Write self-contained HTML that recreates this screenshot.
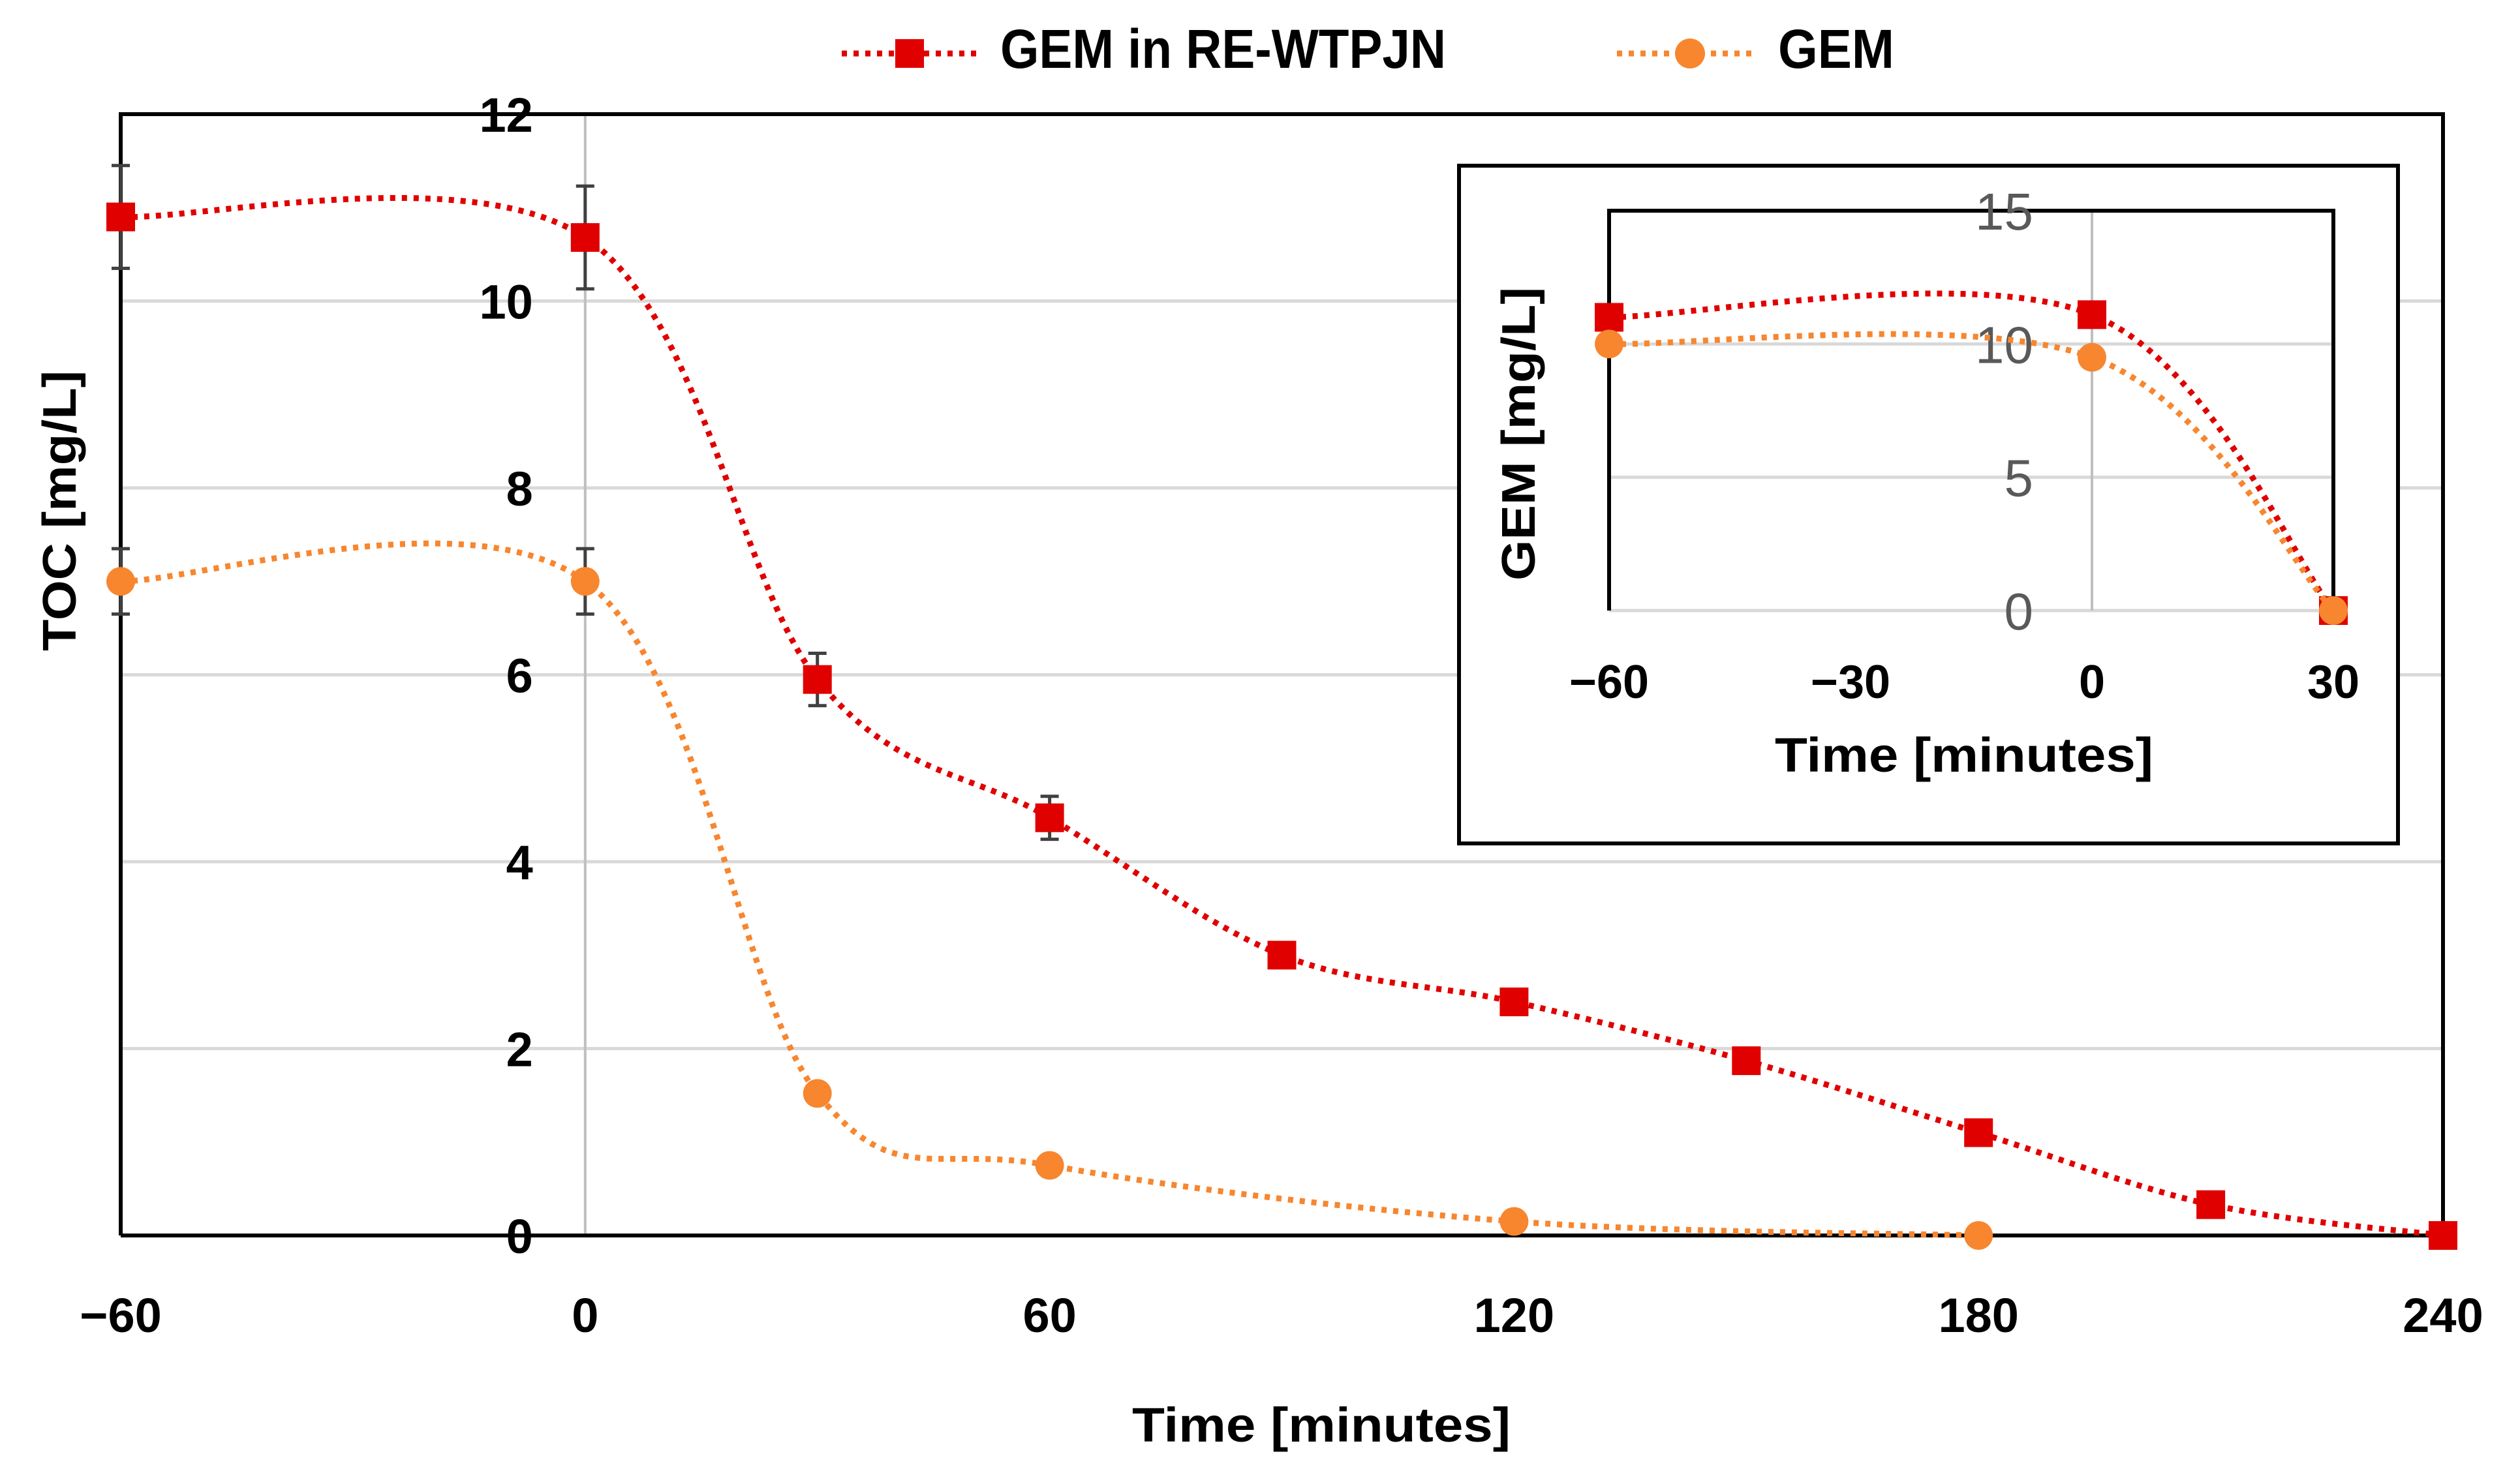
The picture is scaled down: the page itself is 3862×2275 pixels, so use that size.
<!DOCTYPE html>
<html><head><meta charset="utf-8"><style>
html,body{margin:0;padding:0;background:#fff;}
svg{display:block;font-family:"Liberation Sans",sans-serif;font-weight:bold;}
</style></head><body>
<svg id="chart" width="3862" height="2275" viewBox="0 0 3862 2275" xmlns="http://www.w3.org/2000/svg">
<rect width="3862" height="2275" fill="#fff"/>
<g id="main"></g>
<g id="inset"></g>
<g id="legend">
  <line x1="1290" y1="82" x2="1500" y2="82" stroke="#E00000" stroke-width="9" stroke-dasharray="8 10"/>
  <rect x="1372" y="60" width="44" height="44" fill="#E00000"/>
  <text x="1533" y="104" font-size="84" textLength="683" lengthAdjust="spacingAndGlyphs">GEM in RE-WTPJN</text>
  <line x1="2478" y1="82" x2="2688" y2="82" stroke="#F7862F" stroke-width="9" stroke-dasharray="8 10"/>
  <circle cx="2590" cy="82" r="23" fill="#F7862F"/>
  <text x="2725" y="104" font-size="84" textLength="178" lengthAdjust="spacingAndGlyphs">GEM</text>
</g>
</svg>
<script>
const NS="http://www.w3.org/2000/svg";
// main chart data
const xTicks=[-60,0,60,120,180,240];
const xTickLabels=["\u221260","0","60","120","180","240"];
const yTicks=[0,2,4,6,8,10,12];
const redX=[-60,0,30,60,90,120,150,180,210,240];
const redY=[10.9,10.68,5.95,4.47,3.0,2.5,1.87,1.1,0.33,0];
const redErr=[0.55,0.55,0.28,0.23,0,0,0,0,0,0];
const orangeX=[-60,0,30,60,120,180];
const orangeY=[7.0,7.0,1.52,0.75,0.15,0];
const orangeErr=[0.35,0.35,0,0,0,0];
// inset data
const inXTicks=[-60,-30,0,30];
const inXTickLabels=["\u221260","\u221230","0","30"];
const inYTicks=[0,5,10,15];
const inRedX=[-60,0,30];
const inRedY=[11,11.1,0];
const inOrangeX=[-60,0,30];
const inOrangeY=[10,9.5,0];

const RED="#E00000",ORANGE="#F7862F";
function mk(tag,attrs,parent){const e=document.createElementNS(NS,tag);for(const k in attrs)e.setAttribute(k,attrs[k]);parent.appendChild(e);return e;}
function smooth(pts){
  let d="M"+pts[0][0]+","+pts[0][1];
  for(let i=0;i<pts.length-1;i++){
    const p0=pts[Math.max(0,i-1)],p1=pts[i],p2=pts[i+1],p3=pts[Math.min(pts.length-1,i+2)];
    const c1=[p1[0]+(p2[0]-p0[0])/6,p1[1]+(p2[1]-p0[1])/6];
    const c2=[p2[0]-(p3[0]-p1[0])/6,p2[1]-(p3[1]-p1[1])/6];
    d+=" C"+c1[0]+","+c1[1]+" "+c2[0]+","+c2[1]+" "+p2[0]+","+p2[1];
  }
  return d;
}
// ---------- main ----------
const L=185,R=3744,T=175,B=1894;
const sx=v=>L+(v-(-60))/300*(R-L);
const sy=v=>B-v/12*(B-T);
const g=document.getElementById('main');
yTicks.forEach(v=>{
  if(v>0&&v<12){const ln=mk('line',{x1:L,x2:R,y1:sy(v),y2:sy(v),stroke:'#d9d9d9','stroke-width':5},g);
  
  }
});
const vl=mk('line',{x1:sx(0),x2:sx(0),y1:T,y2:B,stroke:'#bfbfbf','stroke-width':4},g);


const ax=mk('path',{d:`M${L},${B} L${L},${T} L${R},${T} L${R},${B} L${L},${B}`,fill:'none',stroke:'#000','stroke-width':6},g);


yTicks.forEach(v=>{
  const t=mk('text',{x:sx(0)-80,y:sy(v)+27,'font-size':74,'text-anchor':'end',fill:'#000'},g);
  t.textContent=String(v);
  
  
});
xTicks.forEach((v,i)=>{
  const t=mk('text',{x:sx(v),y:2042,'font-size':74,'text-anchor':'middle',fill:'#000'},g);
  t.textContent=xTickLabels[i];
  
  
});
const xt=mk('text',{x:2025,y:2210,'font-size':74,'text-anchor':'middle',fill:'#000',textLength:580,lengthAdjust:'spacingAndGlyphs'},g);
xt.textContent="Time [minutes]";


const yt=mk('text',{x:0,y:0,'font-size':72,'text-anchor':'middle',fill:'#000',transform:'translate(116,783) rotate(-90)',textLength:430,lengthAdjust:'spacingAndGlyphs'},g);
yt.textContent="TOC [mg/L]";



function series(parent,xs,ys,errs,fx,fy,color,shape,name,msize,sw){
  const pts=xs.map((x,i)=>[fx(x),fy(ys[i])]);
  const p=mk('path',{d:smooth(pts),fill:'none',stroke:color,'stroke-width':sw,'stroke-dasharray':'8 10'},parent);
  
  
  if(errs) xs.forEach((x,i)=>{
    if(errs[i]>0){
      const X=fx(x),y1=fy(ys[i]+errs[i]),y2=fy(ys[i]-errs[i]);
      const e=mk('path',{d:`M${X},${y1} L${X},${y2} M${X-14},${y1} L${X+14},${y1} M${X-14},${y2} L${X+14},${y2}`,stroke:'#404040','stroke-width':5,fill:'none'},parent);
      
      
    }
  });
  xs.forEach((x,i)=>{
    const X=fx(x),Y=fy(ys[i]);let m;
    if(shape==='sq') m=mk('rect',{x:X-msize/2,y:Y-msize/2,width:msize,height:msize,fill:color},parent);
    else m=mk('circle',{cx:X,cy:Y,r:msize/2,fill:color},parent);
    
    
  });
}
series(g,orangeX,orangeY,orangeErr,sx,sy,ORANGE,'c','gem',44,9);
series(g,redX,redY,redErr,sx,sy,RED,'sq','gem-in-re-wtpjn',44,9);

// ---------- inset ----------
const ig=document.getElementById('inset');
const box=mk('rect',{x:2236,y:254,width:1439,height:1039,fill:'#fff',stroke:'#000','stroke-width':6},ig);


const iL=2466,iR=3576,iT=323,iB=936;
const ix=v=>iL+(v+60)/90*(iR-iL);
const iy=v=>iB-v/15*(iB-iT);
inYTicks.forEach(v=>{
  if(v<15){const ln=mk('line',{x1:iL,x2:iR,y1:iy(v),y2:iy(v),stroke:'#d9d9d9','stroke-width':5},ig);
  
  }
});
const ivl=mk('line',{x1:ix(0),x2:ix(0),y1:iT,y2:iB,stroke:'#bfbfbf','stroke-width':4},ig);


const iax=mk('path',{d:`M${iL},${iB} L${iL},${iT} L${iR},${iT} L${iR},${iB}`,fill:'none',stroke:'#000','stroke-width':6},ig);


inYTicks.forEach(v=>{
  const t=mk('text',{x:ix(0)-90,y:iy(v)+29,'font-size':80,'font-weight':'normal','text-anchor':'end',fill:'#595959'},ig);
  t.textContent=String(v);
  
  
});
inXTicks.forEach((v,i)=>{
  const t=mk('text',{x:ix(v),y:1070,'font-size':72,'text-anchor':'middle',fill:'#000'},ig);
  t.textContent=inXTickLabels[i];
  
  
});
const ixt=mk('text',{x:3010,y:1183,'font-size':74,'text-anchor':'middle',fill:'#000',textLength:580,lengthAdjust:'spacingAndGlyphs'},ig);
ixt.textContent="Time [minutes]";


const iyt=mk('text',{x:0,y:0,'font-size':72,'text-anchor':'middle',fill:'#000',transform:'translate(2352,665) rotate(-90)',textLength:450,lengthAdjust:'spacingAndGlyphs'},ig);
iyt.textContent="GEM [mg/L]";


series(ig,inRedX,inRedY,null,ix,iy,RED,'sq','inset-gem-in-re-wtpjn',44,9);
series(ig,inOrangeX,inOrangeY,null,ix,iy,ORANGE,'c','inset-gem',44,9);
</script>
</body></html>
